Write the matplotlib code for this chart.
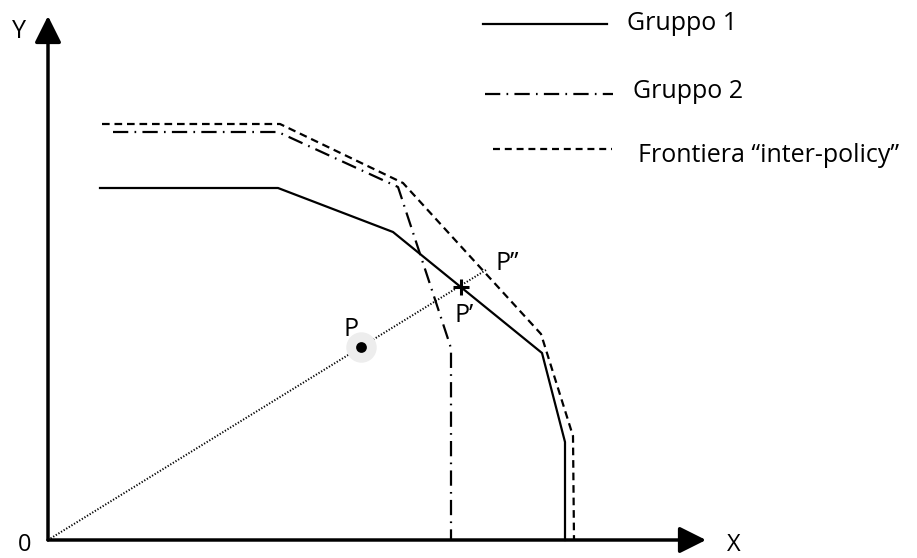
import matplotlib
matplotlib.use("Agg")
import matplotlib.pyplot as plt

plt.rcParams['font.family'] = ['Open Sans', 'DejaVu Sans']
plt.rcParams['lines.scale_dashes'] = False

# frontiers, measured from the origin of the axes (pixels of the original)
g1_x = [52, 230, 345, 494, 517, 517]
g1_y = [352, 352, 308, 187, 98, 0]

g2_x = [65, 230, 350, 402, 403, 403]
g2_y = [408, 408, 353, 195, 190, 0]

fr_x = [54, 232, 355, 493, 525, 526]
fr_y = [416, 416, 357, 206, 104, 0]

# points on the ray from the origin
p_xy = (313, 193)
p1_xy = (413, 253)
p2_xy = (438, 270)

labels = ["Gruppo 1", "Gruppo 2", "Frontiera \u201cinter-policy\u201d"]

fig = plt.figure(figsize=(9.17, 5.58), dpi=100)
ax = fig.add_axes([0, 0, 1, 1])
ax.set_xlim(-48, 869)
ax.set_ylim(-18, 540)
ax.axis('off')

lw = 1.6
ax.plot(g1_x, g1_y, color='black', lw=lw, solid_joinstyle='miter')
ax.plot(g2_x, g2_y, color='black', lw=lw, dashes=(11, 4.5, 1.2, 4.5))
ax.plot(fr_x, fr_y, color='black', lw=lw, dashes=(5.5, 3.5))

# ray O -> P''
ax.plot([0, p2_xy[0]], [0, p2_xy[1]], color='black', lw=1.4, dashes=(0.9, 1.3))

# point P with halo
ax.scatter([p_xy[0]], [p_xy[1]], s=480, color='#ededed', zorder=3, linewidths=0)
ax.scatter([p_xy[0]], [p_xy[1]], s=60, color='black', zorder=4, linewidths=0)
ax.plot([p1_xy[0]], [p1_xy[1]], marker='+', ms=11, mew=2.2, color='black', zorder=4)

# axes arrows
arrow = dict(arrowstyle='-|>,head_length=0.9,head_width=0.45', color='black',
             lw=2.5, mutation_scale=18, shrinkA=0, shrinkB=0)
ax.annotate('', xy=(658, 0), xytext=(0, 0), arrowprops=arrow)
ax.annotate('', xy=(0, 524), xytext=(0, 0), arrowprops=arrow)

fs = 18
ax.text(-29, 509, 'Y', fontsize=fs, ha='center', va='center')
ax.text(-23, -5, '0', fontsize=17, ha='center', va='center')
ax.text(686, -5, 'X', fontsize=17, ha='center', va='center')
ax.text(303, 211, 'P', fontsize=fs, ha='center', va='center')
ax.text(416, 224, 'P\u2019', fontsize=fs, ha='center', va='center')
ax.text(459, 277, 'P\u2019\u2019', fontsize=fs, ha='center', va='center')

# legend drawn by hand
leg_y = [516, 446, 391]
leg_x0 = [435, 437, 445]
leg_x1 = [559, 565, 564]
txt_x = [579, 585, 590]
txt_y = [516, 448, 385]
styles = [dict(), dict(dashes=(11, 4.5, 1.2, 4.5)), dict(dashes=(5, 3.5))]
for i, lab in enumerate(labels):
    ax.plot([leg_x0[i], leg_x1[i]], [leg_y[i], leg_y[i]], color='black', lw=lw, **styles[i])
    ax.text(txt_x[i], txt_y[i], lab, fontsize=fs, ha='left', va='center')

fig.savefig('out.png', dpi=100)
